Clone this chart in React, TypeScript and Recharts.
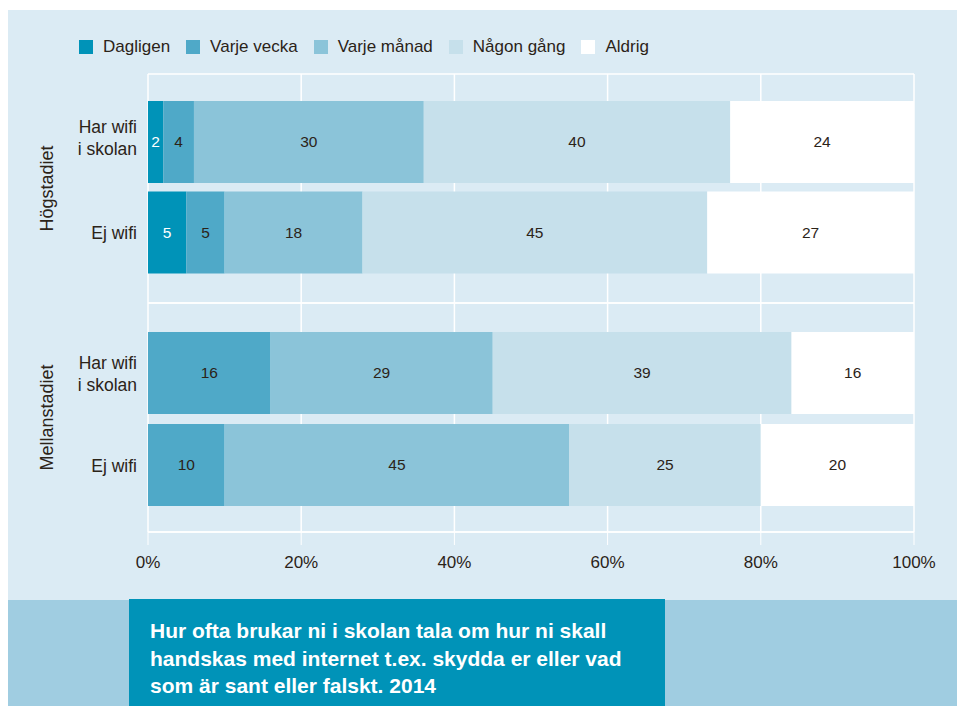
import { BarChart, Bar, XAxis, YAxis, CartesianGrid, LabelList } from "recharts";

const SERIES = ["Dagligen", "Varje vecka", "Varje månad", "Någon gång", "Aldrig"];
const KEYS = ["dagligen", "vecka", "manad", "nagon", "aldrig"];
const COLORS = ["#0093b8", "#4fa9c8", "#8bc4d9", "#c6e0eb", "#ffffff"];
const LABEL_COLORS = ["#ffffff", "#2b2318", "#2b2318", "#2b2318", "#2b2318"];

const ROWS = ["Har wifi\ni skolan", "Ej wifi"];
const TICKS = [0, 20, 40, 60, 80, 100];

// Högstadiet
const hogDagligen = [2, 5];
const hogVecka = [4, 5];
const hogManad = [30, 18];
const hogNagon = [40, 45];
const hogAldrig = [24, 27];

// Mellanstadiet
const melDagligen = [0, 0];
const melVecka = [16, 10];
const melManad = [29, 45];
const melNagon = [39, 25];
const melAldrig = [16, 20];

const TEXT = "#2b2318";
const PANEL = "#dbebf4";
const FONT = '"Liberation Sans", Arial, Helvetica, sans-serif';

function buildRows(values: number[][]) {
  return ROWS.map((row, i) => {
    const r: Record<string, string | number> = { row };
    KEYS.forEach((k, j) => {
      r[k] = values[j][i];
    });
    return r;
  });
}

const hogData = buildRows([hogDagligen, hogVecka, hogManad, hogNagon, hogAldrig]);
const melData = buildRows([melDagligen, melVecka, melManad, melNagon, melAldrig]);

const gridLines = ({ offset }: any) => [offset.top, offset.top + offset.height];

function makeRowTick(shift: number) {
  return (props: any) => {
    const { x, y, payload } = props;
    const lines = String(payload.value).split("\n");
    const dys = lines.length > 1 ? [-9 + shift, 13 + shift] : [6.5];
    return (
      <text x={x} y={y} textAnchor="end" fontSize={17.5} fill={TEXT}>
        {lines.map((l, i) => (
          <tspan key={i} x={x} y={y + dys[i]}>
            {l}
          </tspan>
        ))}
      </text>
    );
  };
}

function makeValueLabel(color: string) {
  return (props: any) => {
    const { x, y, width, height, value } = props;
    if (!value) return null;
    return (
      <text
        x={Number(x) + Number(width) / 2}
        y={Number(y) + Number(height) / 2 + 5}
        textAnchor="middle"
        fontSize={15.5}
        fill={color}
      >
        {value}
      </text>
    );
  };
}

function Bars() {
  return KEYS.map((k, i) => (
    <Bar key={k} dataKey={k} stackId="a" fill={COLORS[i]} barSize={82} isAnimationActive={false}>
      <LabelList dataKey={k} content={makeValueLabel(LABEL_COLORS[i])} />
    </Bar>
  ));
}

export default function App() {
  return (
    <div
      style={{
        position: "absolute",
        left: 8,
        top: 10,
        width: 949,
        height: 696,
        background: PANEL,
        fontFamily: FONT,
        color: TEXT,
        overflow: "hidden"
      }}
    >
      <div
        style={{
          position: "absolute",
          left: 71,
          top: 28,
          display: "flex",
          alignItems: "center",
          fontSize: 17,
          lineHeight: "18px"
        }}
      >
        {SERIES.map((s, i) => (
          <div key={s} style={{ display: "flex", alignItems: "center", marginRight: 16 }}>
            <span style={{ width: 14, height: 14, background: COLORS[i], marginRight: 10 }} />
            <span>{s}</span>
          </div>
        ))}
      </div>

      <div style={{ position: "absolute", left: 0, top: 0 }}>
        <BarChart
          width={949}
          height={300}
          data={hogData}
          layout="vertical"
          margin={{ top: 64, right: 43, bottom: 7, left: 0 }}
        >
          <CartesianGrid stroke="#ffffff" strokeWidth={1.5} horizontalCoordinatesGenerator={gridLines} />
          <XAxis type="number" domain={[0, 100]} ticks={TICKS} hide />
          <YAxis
            type="category"
            dataKey="row"
            width={140}
            axisLine={false}
            tickLine={false}
            tickSize={0}
            tickMargin={11}
            padding={{ top: 23, bottom: 25 }}
            tick={makeRowTick(0)}
            label={{
              value: "Högstadiet",
              angle: -90,
              position: "insideLeft",
              offset: 38.5,
              fill: TEXT,
              fontSize: 18,
              style: { textAnchor: "middle" }
            }}
          />
          {Bars()}
        </BarChart>
      </div>

      <div style={{ position: "absolute", left: 0, top: 283 }}>
        <BarChart
          width={949}
          height={289}
          data={melData}
          layout="vertical"
          margin={{ top: 10, right: 43, bottom: 0, left: 0 }}
        >
          <CartesianGrid stroke="#ffffff" strokeWidth={1.5} horizontalCoordinatesGenerator={gridLines} />
          <XAxis
            type="number"
            domain={[0, 100]}
            ticks={TICKS}
            tickFormatter={(v) => `${v}%`}
            height={50}
            axisLine={{ stroke: "#ffffff", strokeWidth: 1.5 }}
            tickLine={{ stroke: "#ffffff" }}
            tickSize={13}
            tickMargin={11}
            tick={{ fill: TEXT, fontSize: 17 }}
          />
          <YAxis
            type="category"
            dataKey="row"
            width={140}
            axisLine={false}
            tickLine={false}
            tickSize={0}
            tickMargin={11}
            padding={{ top: 24, bottom: 21 }}
            tick={makeRowTick(5)}
            label={{
              value: "Mellanstadiet",
              angle: -90,
              position: "insideLeft",
              offset: 38.5,
              fill: TEXT,
              fontSize: 18,
              style: { textAnchor: "middle" }
            }}
          />
          {Bars()}
        </BarChart>
      </div>

      <div
        style={{
          position: "absolute",
          left: 0,
          top: 590,
          width: 949,
          height: 106,
          background: "#a0cde1"
        }}
      />
      <div
        style={{
          position: "absolute",
          left: 121,
          top: 589,
          width: 536,
          height: 107,
          background: "#0093b8",
          color: "#ffffff",
          fontWeight: "bold",
          fontSize: 21,
          lineHeight: "27.5px",
          padding: "18px 0 0 21px",
          boxSizing: "border-box",
          whiteSpace: "nowrap"
        }}
      >
        Hur ofta brukar ni i skolan tala om hur ni skall
        <br />
        handskas med internet t.ex. skydda er eller vad
        <br />
        som är sant eller falskt. 2014
      </div>
    </div>
  );
}
